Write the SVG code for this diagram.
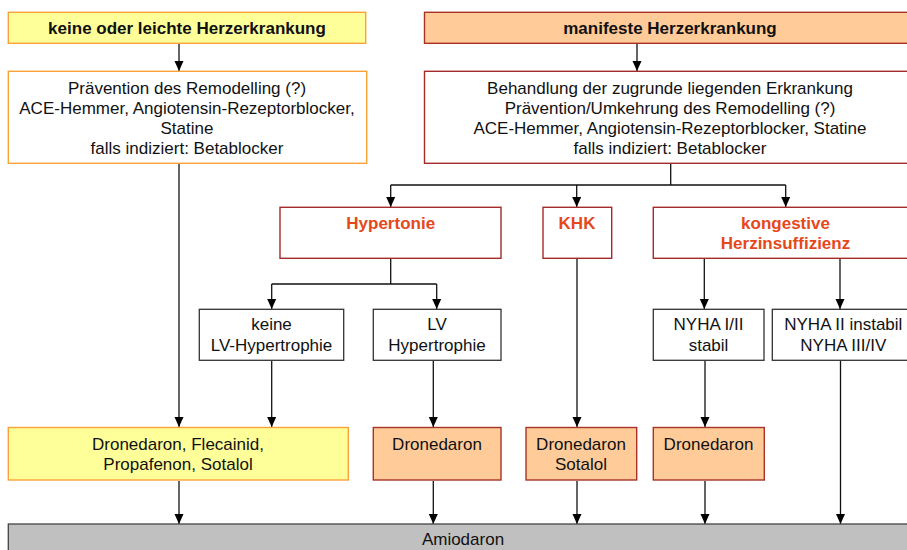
<svg xmlns="http://www.w3.org/2000/svg" width="907" height="550" viewBox="0 0 907 550">
<defs>
<marker id="ah" markerUnits="userSpaceOnUse" markerWidth="10" markerHeight="11" refX="10" refY="5" orient="auto">
<path d="M0,0.5 L10,5 L0,9.5 Z" fill="#000"/>
</marker>
<style>
text{font-family:"Liberation Sans",Arial,sans-serif;font-size:17px;text-anchor:middle;fill:#111}
.b{font-weight:bold}
.o{font-weight:bold;fill:#E5481B}
.yel{fill:#FFFF99;stroke:#F9A23A;stroke-width:1.4}
.org{fill:#FFCC99;stroke:#A93226;stroke-width:1.4}
.wo{fill:#fff;stroke:#F9A23A;stroke-width:1.4}
.wr{fill:#fff;stroke:#A52A2A;stroke-width:1.4}
.wk{fill:#fff;stroke:#333;stroke-width:1.3}
.gr{fill:#C0C0C0;stroke:#444;stroke-width:1.3}
.c{fill:none;stroke:#111;stroke-width:1.3}
.a{fill:none;stroke:#111;stroke-width:1.3;marker-end:url(#ah)}
</style>
</defs>
<rect width="907" height="550" fill="#fff"/>

<g id="connectors">
<path class="a" d="M179,44 V71"/>
<path class="a" d="M637,44 V71"/>
<path class="a" d="M179,164 V427"/>
<path class="c" d="M670.7,164 V185 M390.7,185 H785.7"/>
<path class="a" d="M390.7,185 V207"/>
<path class="a" d="M576.7,185 V207"/>
<path class="a" d="M785.7,185 V207"/>
<path class="c" d="M390.7,259 V284 M271.7,284 H436.7"/>
<path class="a" d="M271.7,284 V309"/>
<path class="a" d="M436.7,284 V309"/>
<path class="a" d="M704.3,259 V309"/>
<path class="a" d="M840,259 V309"/>
<path class="a" d="M271.7,361 V427"/>
<path class="a" d="M433.3,361 V427"/>
<path class="a" d="M577,259 V427"/>
<path class="a" d="M705,361 V427"/>
<path class="a" d="M840.5,361 V524"/>
<path class="a" d="M179,481 V524"/>
<path class="a" d="M433.3,481 V524"/>
<path class="a" d="M577,481 V524"/>
<path class="a" d="M705,481 V524"/>
</g>

<g id="n-keine">
<rect class="yel" x="8.3" y="12.3" width="357.4" height="31"/>
<text class="b" x="187" y="33.5">keine oder leichte Herzerkrankung</text>
</g>
<g id="n-manifest">
<rect class="org" x="424.5" y="12.3" width="490" height="31"/>
<text class="b" x="670" y="33.5">manifeste Herzerkrankung</text>
</g>
<g id="n-praevention">
<rect class="wo" x="8.3" y="71.3" width="358.4" height="92"/>
<text x="187" y="93.7">Prävention des Remodelling (?)</text>
<text x="187" y="113.7">ACE-Hemmer, Angiotensin-Rezeptorblocker,</text>
<text x="187" y="133.7">Statine</text>
<text x="187" y="153.7">falls indiziert: Betablocker</text>
</g>
<g id="n-behandlung">
<rect class="wr" x="424.5" y="71.3" width="490" height="92"/>
<text x="670" y="94">Behandlung der zugrunde liegenden Erkrankung</text>
<text x="670" y="114">Prävention/Umkehrung des Remodelling (?)</text>
<text x="670" y="134">ACE-Hemmer, Angiotensin-Rezeptorblocker, Statine</text>
<text x="670" y="154">falls indiziert: Betablocker</text>
</g>
<g id="n-hypertonie">
<rect class="wr" x="280" y="207.3" width="221" height="51"/>
<text class="o" x="390.7" y="229.3">Hypertonie</text>
</g>
<g id="n-khk">
<rect class="wr" x="543" y="207.3" width="68.7" height="51"/>
<text class="o" x="577" y="229.3">KHK</text>
</g>
<g id="n-kongestiv">
<rect class="wr" x="653.3" y="207.3" width="260" height="51"/>
<text class="o" x="785.5" y="229">kongestive</text>
<text class="o" x="785.5" y="249">Herzinsuffizienz</text>
</g>
<g id="n-keinelv">
<rect class="wk" x="199.3" y="309.3" width="144.4" height="51"/>
<text x="271.5" y="330.3">keine</text>
<text x="271.5" y="351">LV-Hypertrophie</text>
</g>
<g id="n-lv">
<rect class="wk" x="373.3" y="309.3" width="127.7" height="51"/>
<text x="437" y="330.3">LV</text>
<text x="437" y="351">Hypertrophie</text>
</g>
<g id="n-nyha12">
<rect class="wk" x="653.3" y="309.3" width="110.7" height="51"/>
<text x="708.5" y="330.3">NYHA I/II</text>
<text x="708.5" y="351">stabil</text>
</g>
<g id="n-nyha34">
<rect class="wk" x="772.3" y="309.3" width="140" height="51"/>
<text x="843.3" y="330.3">NYHA II instabil</text>
<text x="843.3" y="351">NYHA III/IV</text>
</g>
<g id="n-drone1">
<rect class="yel" x="8.3" y="427.5" width="340" height="52.5"/>
<text x="178" y="450">Dronedaron, Flecainid,</text>
<text x="178" y="470">Propafenon, Sotalol</text>
</g>
<g id="n-drone2">
<rect class="org" x="373.3" y="427.5" width="127.7" height="52.5"/>
<text x="437" y="450">Dronedaron</text>
</g>
<g id="n-drone3">
<rect class="org" x="526" y="427.5" width="110.7" height="52.5"/>
<text x="581" y="450">Dronedaron</text>
<text x="581" y="470">Sotalol</text>
</g>
<g id="n-drone4">
<rect class="org" x="653.3" y="427.5" width="111" height="52.5"/>
<text x="708.5" y="450">Dronedaron</text>
</g>
<g id="n-amiodaron">
<rect class="gr" x="8.3" y="524" width="910" height="40"/>
<text x="463" y="545.3">Amiodaron</text>
</g>
</svg>
